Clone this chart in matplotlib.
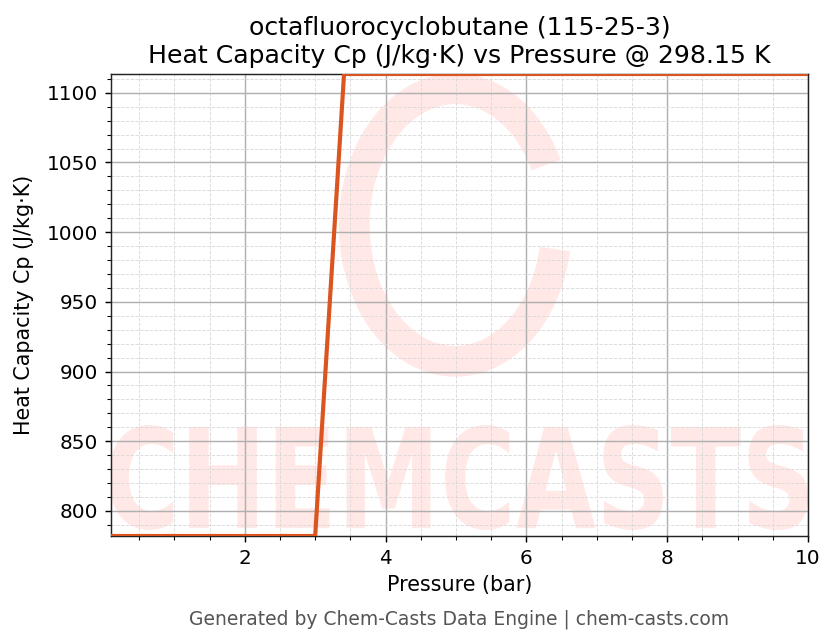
import matplotlib
matplotlib.use("Agg")
import matplotlib.pyplot as plt
from matplotlib.patches import Arc, PathPatch
from matplotlib.textpath import TextPath
from matplotlib.font_manager import FontProperties
from matplotlib.ticker import MultipleLocator
import matplotlib.transforms as mtransforms

pressure_bar = [0.1, 3.0, 3.41, 10.0]
cp_values = [782.0, 782.0, 1113.5, 1113.5]
title_lines = ["octafluorocyclobutane (115-25-3)",
               "Heat Capacity Cp (J/kg\u00b7K) vs Pressure @ 298.15 K"]
x_label = "Pressure (bar)"
y_label = "Heat Capacity Cp (J/kg\u00b7K)"
footer = "Generated by Chem-Casts Data Engine | chem-casts.com"

dpi = 130
fig = plt.figure(figsize=(836 / dpi, 644 / dpi), dpi=dpi)
ax = fig.add_axes([111 / 836, 1 - 536 / 644, 697 / 836, 462 / 644])

wm_color = "#ffe8e5"
# watermark ring logo
arc = Arc((0.494, 0.673), 0.29, 0.59, theta1=45, theta2=340,
          transform=ax.transAxes, color=wm_color, lw=17, zorder=0.3)
ax.add_patch(arc)

# watermark text fitted to a box in axes coordinates
fp = FontProperties(family="DejaVu Sans", weight="bold")
tp = TextPath((0, 0), "CHEMCASTS", size=1, prop=fp)
bb = tp.get_extents()
x0, x1 = -0.003, 1.0
y0, y1 = (536 - 530) / 462, (536 - 425) / 462
tr = (mtransforms.Affine2D()
      .translate(-bb.x0, -bb.y0)
      .scale((x1 - x0) / bb.width, (y1 - y0) / bb.height)
      .translate(x0, y0)) + ax.transAxes
ax.add_patch(PathPatch(tp, transform=tr, facecolor=wm_color, edgecolor="none", zorder=0.3))

ax.plot(pressure_bar, cp_values, color="#db5521", lw=2.3, zorder=3)

ax.set_xlim(min(pressure_bar), max(pressure_bar))
ax.set_ylim(min(cp_values), max(cp_values))
ax.xaxis.set_major_locator(MultipleLocator(2))
ax.xaxis.set_minor_locator(MultipleLocator(0.5))
ax.yaxis.set_major_locator(MultipleLocator(50))
ax.yaxis.set_minor_locator(MultipleLocator(10))
ax.set_axisbelow(True)
ax.grid(which="major", color="#b0b0b0", lw=0.8, zorder=1)
ax.grid(which="minor", color="#dadada", lw=0.5, ls="--", zorder=1)
ax.tick_params(labelsize=11.1)
for s in ax.spines.values():
    s.set_color("#222222")

ax.set_xlabel(x_label, fontsize=11.4)
ax.set_ylabel(y_label, fontsize=11.4, labelpad=7)
ax.set_title("\n".join(title_lines), fontsize=13.9)
fig.text(459.5 / 836, 1 - 619 / 644, footer, ha="center", va="center", fontsize=10.4, color="#555555")

fig.savefig("out.png", dpi=dpi)
